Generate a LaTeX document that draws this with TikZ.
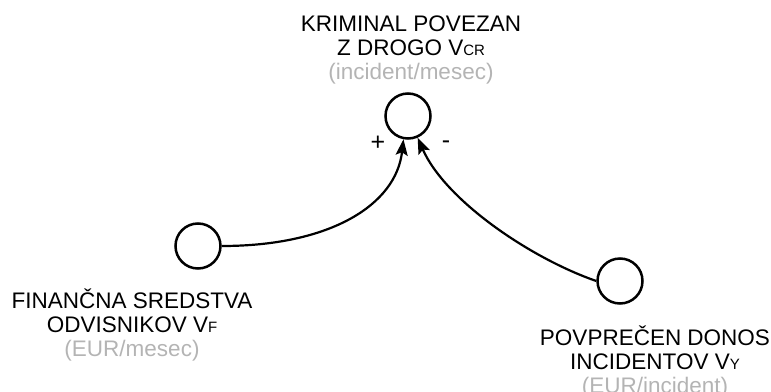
\documentclass[tikz,border=0pt]{standalone}
\usepackage{fontspec}
\setmainfont{Liberation Sans}
\usetikzlibrary{arrows.meta}
\definecolor{unitgray}{HTML}{B4B4B4}
\newcommand{\sub}[1]{{\fontsize{15}{15}\selectfont #1}}
\begin{document}
\begin{tikzpicture}[x=1pt,y=-1pt,
  varnode/.style={circle,draw,line width=2.5pt,minimum size=45pt,inner sep=0pt},
  label/.style={align=center,font=\fontsize{22.5}{23.7}\selectfont,inner sep=0pt},
  link/.style={line width=2.2pt,-{Stealth[length=16pt,width=12pt,inset=3pt]}},
  sign/.style={font=\fontsize{25}{25}\selectfont,inner sep=0pt}]
  \useasboundingbox (0,0) rectangle (771,391);
  % variables
  \node[varnode] (vcr) at (408,116) {};
  \node[varnode] (vf) at (198,246) {};
  \node[varnode] (vy) at (620,281) {};
  % labels (base anchor sits on the last line)
  \node[label,anchor=base] (lcr) at (411,79) {KRIMINAL POVEZAN\\Z DROGO V\sub{CR}\\\textcolor{unitgray}{(incident/mesec)}};
  \node[label,anchor=base] (lf) at (132,356) {FINANČNA SREDSTVA\\ODVISNIKOV V\sub{F}\\\textcolor{unitgray}{(EUR/mesec)}};
  \node[label,anchor=base] (ly) at (655,393) {POVPREČEN DONOS\\INCIDENTOV V\sub{Y}\\\textcolor{unitgray}{(EUR/incident)}};
  % causal links
  \draw[link] (vf.east) .. controls (330,246) and (396,205) .. (vcr.-101);
  \draw[link] (vy.west) .. controls (530,258) and (445,200) .. (vcr.-66);
  % polarities
  \node[sign] (pplus) at (378,143) {+};
  \node[sign] (pminus) at (446,145) {-};
\end{tikzpicture}
\end{document}
